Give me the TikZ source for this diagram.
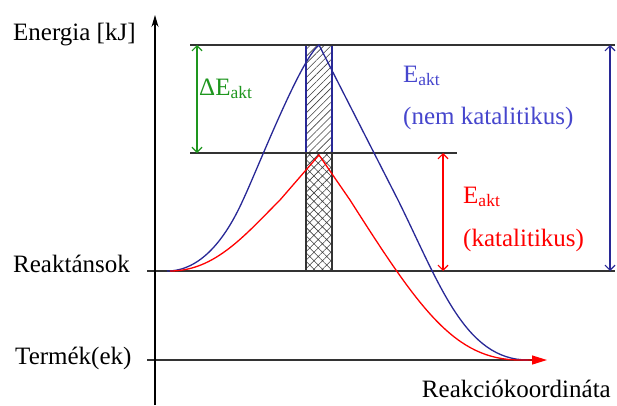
\documentclass[tikz,border=0pt]{standalone}
\usepackage{fontspec}
\setmainfont{Liberation Serif}
\usetikzlibrary{positioning, calc, patterns.meta, arrows.meta}
\definecolor{nkblue}{RGB}{40,40,150}
\definecolor{tblue}{RGB}{70,70,205}
\definecolor{dgreen}{RGB}{30,150,30}

\begin{document}
\begin{tikzpicture}[
            x=1pt, y=-1pt,
            txt/.style={font=\fontsize{25}{30}\selectfont, inner sep=0pt, anchor=base west},
            level/.style={line width=1.6pt, draw=black!80},
            curve/.style={line width=1.3pt},
            dim/.style={line width=1.2pt, {Straight Barb[length=5pt,width=10pt]}-{Straight Barb[length=5pt,width=10pt]}},
            axis/.style={line width=1.2pt, -{Stealth[length=12pt,width=7pt]}}
        ]
            \useasboundingbox (0,0) rectangle (617,405);

            % --- Levels ---
            \coordinate (o) at (155,405);
            \coordinate (ytop) at (155,15);
            \coordinate (nkL) at (190,45);
            \coordinate (nkR) at (615,45);
            \coordinate (kL) at (190,153);
            \coordinate (kR) at (457,153);
            \coordinate (rL) at (147,271);
            \coordinate (rR) at (615,271);
            \coordinate (tL) at (147,360);
            \coordinate (tR) at (533,360);

            % --- Hatched bar ---
            \filldraw[pattern={Lines[angle=45,distance=5pt,line width=0.6pt]}, pattern color=black!75, draw=nkblue, line width=1.2pt]
              (306,45) rectangle (332,153);
            \filldraw[pattern={Hatch[angle=45,distance=6pt,line width=0.6pt]}, pattern color=black!75, draw=black!80, line width=1.5pt]
              (306,153) rectangle (332,271);

            \draw[level] (nkL) -- (nkR);
            \draw[level] (kL) -- (kR);
            \draw[level] (rL) -- (rR);
            \draw[level] (tL) -- (tR);
            \draw[axis] (o) -- (ytop);

            % --- Curves ---
            \draw[curve, nkblue] (167,271) .. controls (200,271) and (225,240) .. (243,200)
              .. controls (258,168) and (300,60) .. (319,45)
              -- (398,200) .. controls (440,285) and (465,360) .. (528,360);
            \draw[curve, red, -{Triangle[length=15pt,width=9pt]}] (170,271) .. controls (215,271) and (245,235) .. (280,200)
              -- (319,155) -- (350,200) .. controls (420,310) and (455,360) .. (520,360) -- (547,360);

            % --- Dimensions ---
            \coordinate (gA) at (197,45);
            \coordinate (gB) at (197,153);
            \coordinate (rA) at (443,153);
            \coordinate (rB) at (443,271);
            \coordinate (bA) at (610,45);
            \coordinate (bB) at (610,271);
            \draw[dim, dgreen] (gA) -- (gB);
            \draw[dim, red] (rA) -- (rB);
            \draw[dim, nkblue] (bA) -- (bB);

            % --- Labels ---
            \node[txt] (energia) at (13,40) {Energia [kJ]};
            \node[txt] (reakt) at (13,272) {Reaktánsok};
            \node[txt] (termek) at (15,364) {Termék(ek)};
            \node[txt, anchor=base east] (koord) at (611,397) {Reakciókoordináta};
            \node[txt, text=dgreen] (dE) at (199,95) {ΔE\textsubscript{akt}};
            \node[txt, text=tblue] (Enk) at (403,82) {E\textsubscript{akt}};
            \node[txt, text=tblue] (nk) at (403,124) {(nem katalitikus)};
            \node[txt, text=red] (Ek) at (463,203) {E\textsubscript{akt}};
            \node[txt, text=red] (kat) at (463,246) {(katalitikus)};
        \end{tikzpicture}
\end{document}
